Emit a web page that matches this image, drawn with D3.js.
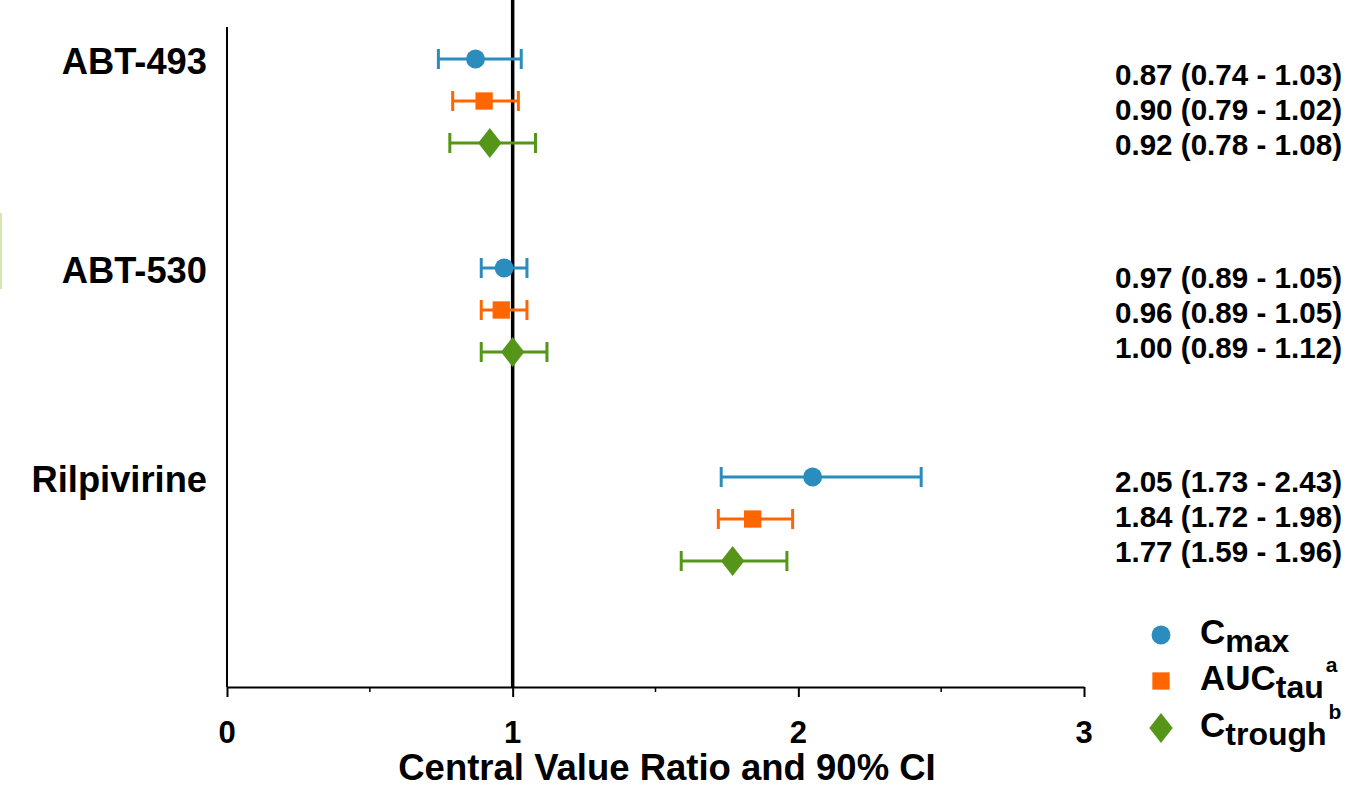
<!DOCTYPE html>
<html><head><meta charset="utf-8">
<script src="https://cdn.jsdelivr.net/npm/d3@7"></script>
<style>body{margin:0;background:#fff}svg{display:block}text{font-family:"Liberation Sans",Arial,sans-serif;font-weight:bold;fill:#000}</style>
</head><body>
<script>
const groups = ["ABT-493", "ABT-530", "Rilpivirine"];
const series = ["Cmax", "AUCtau", "Ctrough"];
const estimates = [[0.87, 0.90, 0.92], [0.97, 0.96, 1.00], [2.05, 1.84, 1.77]];
const lowers = [[0.74, 0.79, 0.78], [0.89, 0.89, 0.89], [1.73, 1.72, 1.59]];
const uppers = [[1.03, 1.02, 1.08], [1.05, 1.05, 1.12], [2.43, 1.98, 1.96]];
const xTicks = [0, 1, 2, 3];
const xMinor = [0.5, 1.5, 2.5];
const colors = ["#2b8cbe", "#ff6600", "#559619"];
const xTitle = "Central Value Ratio and 90% CI";

const W = 1355, H = 788;
const svg = d3.select("body").append("svg").attr("width", W).attr("height", H);

const x = d3.scaleLinear().domain([0, 3]).range([227, 1084]);
const yG = d3.scaleBand().domain(groups).range([-3.5, 623.5]);
const yS = d3.scalePoint().domain(series).range([-42, 42]);
const yT = d3.scaleBand().domain(groups).range([7.5, 618]);
const yTS = d3.scalePoint().domain(series).range([-35, 35]);
const rowY = (g, s) => yG(g) + yG.bandwidth() / 2 + yS(s);
const txtY = (g, s) => yT(g) + yT.bandwidth() / 2 + yTS(s);
const axisY = 687;

// faint artefact line at left edge
svg.append("line").attr("x1", 1).attr("x2", 1).attr("y1", 213).attr("y2", 289)
  .attr("stroke", "#d6e8b0").attr("stroke-width", 2);

// y axis line
svg.append("line").attr("x1", x(0)).attr("x2", x(0)).attr("y1", 27).attr("y2", axisY)
  .attr("stroke", "#000").attr("stroke-width", 2);

// x axis
const ax = svg.append("g").attr("transform", `translate(0,${axisY})`)
  .call(d3.axisBottom(x).tickValues(xTicks).tickFormat("").tickSize(10).tickSizeOuter(0));
ax.select(".domain").attr("stroke", "#000").attr("stroke-width", 2);
ax.selectAll(".tick line").attr("stroke", "#000").attr("stroke-width", 2);
ax.selectAll(".tick text").remove();
svg.append("g").selectAll("text").data(xTicks).join("text")
  .attr("x", d => x(d)).attr("y", axisY + 56).attr("text-anchor", "middle")
  .style("font-size", "31px").text(d3.format("d"));
svg.append("g").selectAll("line").data(xMinor).join("line")
  .attr("x1", d => x(d)).attr("x2", d => x(d)).attr("y1", axisY).attr("y2", axisY + 5)
  .attr("stroke", "#000").attr("stroke-width", 1.5);

// reference line at 1
svg.append("line").attr("x1", x(1)).attr("x2", x(1)).attr("y1", 0).attr("y2", axisY)
  .attr("stroke", "#000").attr("stroke-width", 3.5);

// axis title
svg.append("text").attr("x", 667).attr("y", 780).attr("text-anchor", "middle")
  .style("font-size", "36.5px").text(xTitle);

// group labels
svg.append("g").selectAll("text").data(groups).join("text")
  .attr("x", 207).attr("y", g => rowY(g, series[0]) + 2).attr("dy", "0.35em")
  .attr("text-anchor", "end").style("font-size", "36.3px").text(g => g);

// data
const rows = [];
groups.forEach((g, i) => series.forEach((s, j) => rows.push({g, s, j, est: estimates[i][j], lo: lowers[i][j], hi: uppers[i][j]})));

const fmt = d3.format(".2f");
const gm = svg.append("g");
rows.forEach(r => {
  const y = rowY(r.g, r.s), c = colors[r.j];
  const grp = gm.append("g");
  grp.append("line").attr("x1", x(r.lo)).attr("x2", x(r.hi)).attr("y1", y).attr("y2", y).attr("stroke", c).attr("stroke-width", 3);
  [r.lo, r.hi].forEach(v => grp.append("line").attr("x1", x(v)).attr("x2", x(v)).attr("y1", y - 10).attr("y2", y + 10).attr("stroke", c).attr("stroke-width", 3));
  const sym = [d3.symbolCircle, d3.symbolSquare, d3.symbolDiamond][r.j];
  const size = [280, 300, 260][r.j];
  grp.append("path").attr("d", d3.symbol(sym, size)).attr("transform", `translate(${x(r.est)},${y})` + (r.j === 2 ? " scale(1.35,1)" : ""))
    .attr("fill", c);
  svg.append("text").attr("x", 1342).attr("y", txtY(r.g, r.s)).attr("dy", "0.36em").attr("text-anchor", "end")
    .style("font-size", "29.6px").text(`${fmt(r.est)} (${fmt(r.lo)} - ${fmt(r.hi)})`);
});

// legend
const legY = [635, 681, 728];
const legMain = ["C", "AUC", "C"];
const legSub = ["max", "tau", "trough"];
const legSup = ["", "a", "b"];
series.forEach((s, j) => {
  const sym = [d3.symbolCircle, d3.symbolSquare, d3.symbolDiamond][j];
  const size = [280, 300, 260][j];
  svg.append("path").attr("d", d3.symbol(sym, size)).attr("transform", `translate(1161,${legY[j]})` + (j === 2 ? " scale(1.35,1)" : ""))
    .attr("fill", colors[j]);
  const t = svg.append("text").attr("x", 1200).attr("y", legY[j] + 9).style("font-size", "35px");
  t.append("tspan").text(legMain[j]);
  t.append("tspan").attr("dy", 8).style("font-size", "32px").text(legSub[j]);
  if (legSup[j]) t.append("tspan").attr("dy", -26).attr("dx", 2).style("font-size", "21px").text(legSup[j]);
});
</script>
</body></html>
